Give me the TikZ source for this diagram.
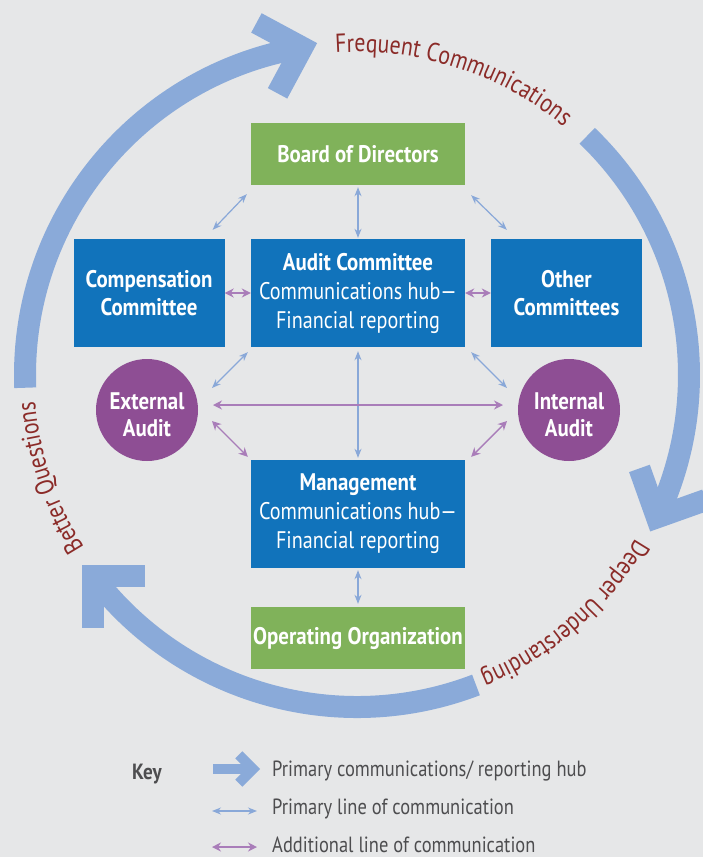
\documentclass[tikz,border=0pt]{standalone}
\usepackage{fontspec}
\setmainfont{PT Sans}[FakeStretch=0.84, BoldFeatures={FakeStretch=0.87}]
\usetikzlibrary{calc,decorations.text,arrows.meta}
\definecolor{bg}{HTML}{E6E7E8}
\definecolor{boxblue}{HTML}{1173BB}
\definecolor{boxgreen}{HTML}{80B25A}
\definecolor{auditpurple}{HTML}{8E4E94}
\definecolor{bigblue}{HTML}{8AAAD9}
\definecolor{thinblue}{HTML}{89A8D8}
\definecolor{thinpurple}{HTML}{A97DB9}
\definecolor{darkred}{HTML}{8B2B28}
\definecolor{keygray}{HTML}{4D4D4F}
\tikzset{
  box/.style={rectangle, inner sep=0pt, text=white, align=center, font=\fontsize{24pt}{29pt}\selectfont},
  greenbox/.style={box, fill=boxgreen, minimum width=214pt, minimum height=62pt, font=\fontsize{24pt}{29pt}\selectfont\bfseries},
  hubbox/.style={box, fill=boxblue, minimum width=214pt, minimum height=108pt},
  combox/.style={box, fill=boxblue, minimum width=151pt, minimum height=108pt, font=\fontsize{24pt}{28pt}\selectfont\bfseries},
  auditc/.style={circle, fill=auditpurple, minimum size=102pt, inner sep=0pt},
  audittext/.style={inner sep=0pt, text=white, align=center, font=\fontsize{24pt}{27pt}\selectfont\bfseries},
  bigarc/.style={draw=bigblue, line width=22pt, line cap=butt},
  chev/.style={draw=bigblue, line width=22pt, line cap=butt, line join=miter},
  keychev/.style={draw=bigblue, line width=10pt, line cap=butt, line join=miter},
  thinb/.style={draw=thinblue, line width=1.2pt, {Stealth[length=9pt,width=7pt]}-{Stealth[length=9pt,width=7pt]}},
  thinp/.style={draw=thinpurple, line width=1.4pt, {Stealth[length=9pt,width=9pt]}-{Stealth[length=9pt,width=9pt]}},
  curvetext/.style={decorate, decoration={text along path, text align=center, text color=darkred}},
  keytext/.style={anchor=base west, text=keygray, inner sep=0pt, font=\fontsize{22pt}{24pt}\selectfont},
}
\newcommand{\curvefont}{\fontsize{26pt}{26pt}\selectfont}
\begin{document}
\begin{tikzpicture}[x=1pt,y=1pt]
\fill[bg] (0,0) rectangle (703,-857);
\useasboundingbox (0,0) rectangle (703,-857);
\coordinate (O) at (357,-375);

% big cycle arrows
\draw[bigarc] ($(O)+(182.2:332)$) arc[start angle=182.2, end angle=99.5, radius=332] coordinate (c1);
\draw[chev] ($(c1)+(151.7:52)$) -- (c1) -- ($(c1)+(-118.3:52)$);
\draw[bigarc] ($(O)+(46.1:332)$) arc[start angle=46.1, end angle=-25.4, radius=332] coordinate (c2);
\draw[chev] ($(c2)+(109.6:52)$) -- (c2) -- ($(c2)+(19.6:52)$);
\draw[bigarc] ($(O)+(291:332)$) arc[start angle=291, end angle=217.3, radius=332] coordinate (c3);
\draw[chev] ($(c3)+(0:52)$) -- (c3) -- ($(c3)+(270:52)$);

% curved texts
\path[curvetext, decoration={text={|\curvefont|Frequent Communications}}]
  ($(O)+(96:323)$) arc[start angle=96, end angle=48, radius=323];
\path[curvetext, decoration={text={|\curvefont|Deeper Understanding}}]
  ($(O)+(-27:323)$) arc[start angle=-27, end angle=-71, radius=323];
\path[curvetext, decoration={text={|\curvefont|Better Questions}}]
  ($(O)+(215:323)$) arc[start angle=215, end angle=182, radius=323];

% nodes
\node[greenbox] (board) at (358,-154) {Board of Directors};
\node[hubbox] (audit) at (358,-293) {\textbf{Audit Committee}\\Communications hub—\\Financial reporting};
\node[combox] (comp) at (149,-293) {Compensation\\Committee};
\node[combox] (other) at (566.5,-293) {Other\\Committees};
\node[auditc] (ext) at (147,-410) {};
\node[audittext] (extlabel) at (147,-415) {External\\Audit};
\node[auditc] (int) at (569,-410) {};
\node[audittext] (intlabel) at (569,-415) {Internal\\Audit};
\node[hubbox] (mgmt) at (358,-514) {\textbf{Management}\\Communications hub—\\Financial reporting};
\node[greenbox] (oper) at (358,-638) {Operating Organization};

% connectors
\draw[thinb] ($(board.south west)+(-4,-9)$) -- ($(comp.north east)+(-12,9)$);
\draw[thinb, shorten <=2pt, shorten >=1pt] (board.south) -- (audit.north);
\draw[thinb] ($(board.south east)+(6,-10)$) -- ($(other.north west)+(16,9)$);
\draw[thinp] (comp.east) -- (audit.west);
\draw[thinp] (audit.east) -- (other.west);
\draw[thinb] ($(audit.south west)+(-3,-5)$) -- ($(ext.center)+(65,22)$);
\draw[thinb, shorten <=4pt, shorten >=2pt] (audit.south) -- (mgmt.north);
\draw[thinb] ($(audit.south east)+(6,-5)$) -- ($(int.center)+(-62,22)$);
\draw[thinp] ($(ext.center)+(66,5)$) -- ($(int.center)+(-66,5)$);
\draw[thinp] ($(ext.center)+(65,-11)$) -- ($(mgmt.north west)+(-3,3)$);
\draw[thinp] ($(int.center)+(-62,-11)$) -- ($(mgmt.north east)+(6,3)$);
\draw[thinb, shorten <=2pt, shorten >=3pt] (mgmt.south) -- (oper.north);

% key
\node[anchor=base west, inner sep=0pt, text=keygray, font=\fontsize{22pt}{24pt}\selectfont\bfseries] (key) at (132,-779) {Key};
\coordinate (k1s) at (213,-769);
\coordinate (k1e) at (253,-769);
\draw[keychev] (k1s) -- (k1e);
\draw[keychev] ($(k1e)+(135:20)$) -- (k1e) -- ($(k1e)+(-135:20)$);
\node[keytext] (t1) at (272,-776) {Primary communications/ reporting hub};
\coordinate (k2s) at (212,-811);
\coordinate (k2e) at (257,-811);
\draw[thinb] (k2s) -- (k2e);
\node[keytext] (t2) at (272,-814) {Primary line of communication};
\coordinate (k3s) at (212,-847);
\coordinate (k3e) at (257,-847);
\draw[thinp] (k3s) -- (k3e);
\node[keytext] (t3) at (272,-852) {Additional line of communication};
\end{tikzpicture}
\end{document}
